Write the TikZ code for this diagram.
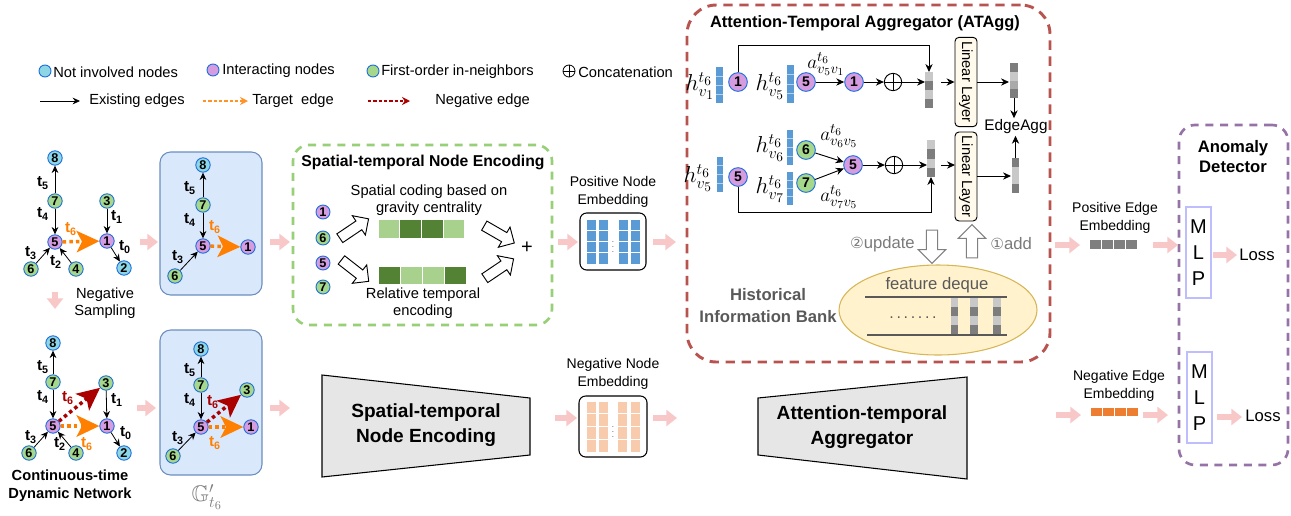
\documentclass[tikz,border=0pt]{standalone}
\usepackage[no-math]{fontspec}
\setmainfont{Liberation Sans}
\newfontfamily\dejavu{DejaVu Sans}
\usepackage{amsmath,amssymb}
\DeclareMathSizes{18}{18}{13}{10}
\DeclareMathSizes{14}{14}{10.5}{8}
\DeclareMathSizes{17}{17}{12}{9}
\usetikzlibrary{arrows.meta,shapes.arrows,shapes.geometric}
\definecolor{ncyan}{RGB}{140,214,230}
\definecolor{npurple}{RGB}{214,156,224}
\definecolor{ngreen}{RGB}{166,216,140}
\definecolor{nborder}{RGB}{30,110,220}
\definecolor{pinkar}{RGB}{248,200,200}
\definecolor{orangeE}{RGB}{255,128,0}
\definecolor{redE}{RGB}{170,0,0}
\definecolor{boxblue}{RGB}{218,232,252}
\definecolor{boxblueB}{RGB}{108,142,191}
\definecolor{greenD}{RGB}{151,208,119}
\definecolor{redD}{RGB}{184,84,80}
\definecolor{purpD}{RGB}{150,115,166}
\definecolor{gLight}{RGB}{169,209,142}
\definecolor{gDark}{RGB}{84,130,53}
\definecolor{embBlue}{RGB}{91,155,213}
\definecolor{embOrange}{RGB}{248,203,173}
\definecolor{edgeGray}{RGB}{127,127,127}
\definecolor{edgeOrange}{RGB}{237,125,49}
\definecolor{trapGray}{RGB}{230,230,230}
\definecolor{ellFill}{RGB}{255,242,204}
\definecolor{ellBorder}{RGB}{214,182,86}
\definecolor{txtGray}{RGB}{89,89,89}
\definecolor{mlpB}{RGB}{190,190,255}
\definecolor{llFill}{RGB}{255,250,235}
\definecolor{gA}{RGB}{200,200,200}
\definecolor{gB}{RGB}{125,125,125}
\definecolor{gC}{RGB}{170,170,170}
\newcommand{\fs}[2]{\fontsize{#1}{#2}\selectfont}
\newcommand{\tlab}[1]{t\textsubscript{#1}}
\newcommand{\vcells}[5]{\foreach \cc [count=\k from 0] in {#5} {\fill[\cc] (#1,{#2+\k*(#4-#2)/4}) rectangle (#3,{#2+(\k+1)*(#4-#2)/4});}}
\newcommand{\hcells}[5]{\foreach \cc [count=\k from 0] in {#5} {\filldraw[fill=\cc, draw=white, line width=0.8pt] ({#1+\k*(#3-#1)/4},#2) rectangle ({#1+(\k+1)*(#3-#1)/4},#4);}}
\newcommand{\bluevec}[4]{\fill[embBlue] (#1,#2) rectangle (#3,#4); \foreach \k in {1,2,3} {\draw[white!55!embBlue, line width=0.4pt] (#1,{#2+\k*(#4-#2)/4}) -- (#3,{#2+\k*(#4-#2)/4});}}
\tikzset{
  gn/.style={circle, draw=nborder, line width=0.7pt, minimum size=10.8pt, inner sep=0pt, font=\bfseries\fs{9.5}{10}},
  cn/.style={gn, fill=ncyan},
  pn/.style={gn, fill=npurple},
  en/.style={gn, fill=ngreen},
  arr/.style={-{Stealth[length=5.5pt,width=5pt]}, line width=0.6pt, black},
  tlb/.style={font=\bfseries\fs{11.5}{11.5}, inner sep=0pt},
  tgt/.style={orangeE, line width=2.6pt, dash pattern=on 2.6pt off 2.4pt, -{Stealth[length=17pt,width=16pt,inset=4pt]}},
  neg/.style={redE, line width=2.6pt, dash pattern=on 2.6pt off 2.4pt, -{Stealth[length=17pt,width=16pt,inset=4pt]}},
  lgtgt/.style={orangeE!85, line width=0.8pt, dash pattern=on 2.5pt off 1.5pt, -{Stealth[length=6pt,width=6pt]}},
  lgneg/.style={redE, line width=0.8pt, dash pattern=on 2.5pt off 1.5pt, -{Stealth[length=6pt,width=6pt]}},
  pinkarrow/.style={pinkar, line width=4.5pt, -{Triangle[length=8pt,width=12pt]}},
  lgtext/.style={font=\fs{11}{13}, anchor=west, inner sep=0pt},
  smtext/.style={font=\fs{10.5}{13.5}, align=center, inner sep=0pt},
  midtext/.style={font=\fs{11}{12.8}, align=center, inner sep=0pt},
  bigtext/.style={font=\bfseries\fs{14.3}{19}, align=center, inner sep=0pt},
  mathh/.style={font=\fs{18}{18}, inner sep=0pt},
  mathw/.style={font=\fs{14}{14}, inner sep=0pt},
  qn/.style={gn, minimum size=14pt, font=\bfseries\fs{10.5}{10.5}},
  plusop/.style={circle, draw, line width=0.7pt, minimum size=13pt, inner sep=0pt},
  aarr/.style={-{Stealth[length=6pt,width=5.5pt]}, line width=0.7pt, black},
  llbox/.style={draw, rounded corners=3pt, fill=llFill, line width=0.7pt, rotate=-90, minimum width=67pt, minimum height=16.5pt, inner sep=0pt, font=\fs{11}{11}},
  hollow/.style={single arrow, draw=black, fill=white, line width=0.7pt, minimum height=26pt, inner xsep=0pt, inner ysep=3.6pt, single arrow head extend=4.8pt, single arrow head indent=0pt},
  hollowg/.style={single arrow, draw=gray, fill=white, line width=0.8pt, minimum height=25pt, inner xsep=0pt, inner ysep=3.8pt, single arrow head extend=6.2pt},
  bluebox/.style={draw=boxblueB, fill=boxblue, rounded corners=8pt, line width=0.8pt, minimum width=76.5pt},
  embbox/.style={draw=black, fill=white, rounded corners=5pt, line width=0.8pt},
  mlpbox/.style={draw=mlpB, line width=1.2pt, fill=white, minimum width=18.75pt, minimum height=68.25pt, inner sep=0pt, align=center, font=\fs{15}{19.5}},
  trap/.style={draw=black, fill=trapGray, line width=0.8pt}
}
\begin{document}
\begin{tikzpicture}[x=0.75pt,y=-0.75pt]
\useasboundingbox (0,0) rectangle (1291,515);

% ---------- legend ----------
\node[cn, minimum size=9pt] (lgc) at (45,71) {};
\node[lgtext] (lgct) at (53,72) {Not involved nodes};
\node[pn, minimum size=9pt] (lgp) at (213,70) {};
\node[lgtext] (lgpt) at (222,71) {Interacting nodes};
\node[en, minimum size=9pt] (lgg) at (373,71) {};
\node[lgtext] (lggt) at (381,72) {First-order in-neighbors};
\node[plusop, minimum size=9pt, line width=0.6pt] (lgo) at (569,71) {};
\draw[line width=0.6pt] (lgo.north)--(lgo.south) (lgo.west)--(lgo.east);
\node[lgtext] (lgot) at (578,72) {Concatenation};
\coordinate (lga1) at (40,101); \coordinate (lga2) at (80,101);
\draw[arr] (lga1) -- (lga2);
\node[lgtext] (lgat) at (89,101) {Existing edges};
\coordinate (lgb1) at (203,101); \coordinate (lgb2) at (248,101);
\draw[lgtgt] (lgb1) -- (lgb2);
\node[lgtext] (lgbt) at (252,101) {Target\ \ edge};
\coordinate (lgr1) at (368,101); \coordinate (lgr2) at (410,101);
\draw[lgneg] (lgr1) -- (lgr2);
\node[lgtext] (lgrt) at (435,101) {Negative edge};

% ---------- top-left graph ----------
\node[cn] (a8) at (55,158) {8};
\node[en] (a7) at (55,201) {7};
\node[pn] (a5) at (55,242) {5};
\node[en] (a6) at (31,269) {6};
\node[en] (a4) at (76,269) {4};
\node[en] (a3) at (107,201) {3};
\node[pn] (a1) at (107,241) {1};
\node[cn] (a2) at (124,268) {2};
\draw[arr] (a7) -- (a8);
\draw[arr] (a7) -- (a5);
\draw[arr] (a6) -- (a5);
\draw[arr] (a4) -- (a5);
\draw[arr] (a3) -- (a1);
\draw[arr] (a1) -- (a2);
\draw[tgt] (a5) -- (a1);
\node[tlb] (al5) at (43,183) {\tlab{5}};
\node[tlb] (al4) at (43,214) {\tlab{4}};
\node[tlb] (al3) at (31,253) {\tlab{3}};
\node[tlb] (al2) at (56,262) {\tlab{2}};
\node[tlb, text=orangeE] (al6) at (71,229) {\tlab{6}};
\node[tlb] (al1) at (117,217) {\tlab{1}};
\node[tlb] (al0) at (125,247) {\tlab{0}};
\node[midtext] (negs) at (105,303) {Negative\\Sampling};

% ---------- blue box 1 ----------
\node[bluebox, minimum height=107.25pt] (box1) at (211,223.5) {};
\node[cn] (b8) at (203,165) {8};
\node[en] (b7) at (203,205) {7};
\node[pn] (b5) at (203,246) {5};
\node[en] (b6) at (175,276) {6};
\node[pn] (b1) at (248,247) {1};
\draw[arr] (b7) -- (b8);
\draw[arr] (b7) -- (b5);
\draw[arr] (b6) -- (b5);
\draw[tgt] (b5) -- (b1);
\node[tlb] (bl5) at (190,188) {\tlab{5}};
\node[tlb] (bl4) at (190,220) {\tlab{4}};
\node[tlb, text=orangeE] (bl6) at (215,227) {\tlab{6}};
\node[tlb] (bl3) at (178,257) {\tlab{3}};

% ---------- bottom-left graph ----------
\node[cn] (c8) at (53,343) {8};
\node[en] (c7) at (53,382) {7};
\node[pn] (c5) at (53,426) {5};
\node[en] (c6) at (29,453) {6};
\node[en] (c4) at (76,453) {4};
\node[en] (c3) at (106,383) {3};
\node[pn] (c1) at (107,426) {1};
\node[cn] (c2) at (124,453) {2};
\draw[arr] (c7) -- (c8);
\draw[arr] (c7) -- (c5);
\draw[arr] (c6) -- (c5);
\draw[arr] (c4) -- (c5);
\draw[arr] (c3) -- (c1);
\draw[arr] (c1) -- (c2);
\draw[tgt] (c5) -- (c1);
\draw[neg] (c5) -- (c3);
\node[tlb] (cl5) at (43,367) {\tlab{5}};
\node[tlb] (cl4) at (43,397) {\tlab{4}};
\node[tlb, text=redE] (cl6r) at (68,398) {\tlab{6}};
\node[tlb] (cl1) at (117,400) {\tlab{1}};
\node[tlb] (cl0) at (126,433) {\tlab{0}};
\node[tlb] (cl3) at (31,437) {\tlab{3}};
\node[tlb] (cl2) at (60,444) {\tlab{2}};
\node[tlb, text=orangeE] (cl6o) at (87,444) {\tlab{6}};
\node[font=\bfseries\fs{11}{13.5}, align=center, inner sep=0pt] (ctdn) at (70,486) {Continuous-time\\Dynamic Network};

% ---------- blue box 2 ----------
\node[bluebox, minimum height=108.75pt] (box2) at (211,402.5) {};
\node[cn] (d8) at (201,349) {8};
\node[en] (d7) at (201,385) {7};
\node[pn] (d5) at (201,427) {5};
\node[en] (d6) at (173,456) {6};
\node[en] (d3) at (247,390) {3};
\node[pn] (d1) at (251,427) {1};
\draw[arr] (d7) -- (d8);
\draw[arr] (d7) -- (d5);
\draw[arr] (d6) -- (d5);
\draw[tgt] (d5) -- (d1);
\draw[neg] (d5) -- (d3);
\node[tlb] (dl5) at (190,370) {\tlab{5}};
\node[tlb] (dl4) at (190,400) {\tlab{4}};
\node[tlb, text=redE] (dl6r) at (213,402) {\tlab{6}};
\node[tlb, text=orangeE] (dl6o) at (215,443) {\tlab{6}};
\node[tlb] (dl3) at (178,438) {\tlab{3}};
\node[font=\fs{17}{17}, text=gray, inner sep=0pt] (glab) at (207,497) {$\mathbb{G}'_{t_6}$};

% ---------- spatial-temporal node encoding box ----------
\node[draw=greenD, line width=2pt, dash pattern=on 6pt off 5pt, rounded corners=12pt, minimum width=194.25pt, minimum height=135pt] (gbox) at (422.5,235) {};
\node[font=\bfseries\fs{11.8}{12}, inner sep=0pt] (gtitle) at (423,162) {Spatial-temporal Node Encoding};
\node[pn, minimum size=10.5pt] (e1) at (323,212) {1};
\node[en, minimum size=10.5pt] (e6) at (323,238) {6};
\node[pn, minimum size=10.5pt] (e5) at (323,263) {5};
\node[en, minimum size=10.5pt] (e7) at (323,287) {7};
\node[midtext] (sctext) at (429,200) {Spatial coding based on\\gravity centrality};
\node[midtext] (rttext) at (423,303) {Relative temporal\\encoding};
\hcells{378}{219}{465}{239}{gLight,gDark,gDark,gLight}
\hcells{378}{266}{467}{285}{gDark,gLight,gLight,gDark}
\node[hollow, rotate=34] (ha1) at (352,230) {};
\node[hollow, rotate=-38] (ha2) at (353,269) {};
\node[hollow, rotate=-30] (ha3) at (497,233) {};
\node[hollow, rotate=34] (ha4) at (497,270) {};
\node[font=\fs{15}{15}, inner sep=0pt] (plus) at (527,248) {+};

% ---------- positive node embedding ----------
\node[smtext] (pnetext) at (613,192) {Positive Node\\Embedding};
\node[embbox, minimum width=49.5pt, minimum height=42.75pt] (pne) at (613,241.5) {};
\foreach \xl in {586,598,618,630} {\foreach \r in {0,1,2,3} {\filldraw[fill=embBlue, draw=white, line width=0.6pt] (\xl,{219+\r*11.25}) rectangle ({\xl+10},{219+(\r+1)*11.25});}}
\node[inner sep=0pt, font=\fs{6}{6}, text=black!70] (pdots) at (613,243) {$\vdots$};

% ---------- bottom trapezoids & negative node embedding ----------
\draw[trap] (322,375) -- (530,398) -- (530,455) -- (322,477) -- cycle;
\node[bigtext] (stne) at (426,425) {Spatial-temporal\\Node Encoding};
\node[smtext] (nnetext) at (613,374) {Negative Node\\Embedding};
\node[embbox, minimum width=51pt, minimum height=45.75pt] (nne) at (613,426.5) {};
\foreach \xl in {586,598,617,630} {\foreach \r in {0,1,2,3} {\filldraw[fill=embOrange, draw=white, line width=0.6pt] (\xl,{401+\r*12.75}) rectangle ({\xl+10.5},{401+(\r+1)*12.75});}}
\node[inner sep=0pt, font=\fs{6}{6}, text=black!70] (ndots) at (613,428) {$\vdots$};
\draw[trap] (758,398) -- (967,377) -- (967,479) -- (758,455) -- cycle;
\node[bigtext] (atag) at (862,427) {Attention-temporal\\Aggregator};

% ---------- ATAgg box ----------
\node[draw=redD, line width=2.2pt, dash pattern=on 7pt off 5pt, rounded corners=22pt, minimum width=272.25pt, minimum height=267.75pt] (atbox) at (868.5,183.5) {};
\node[font=\bfseries\fs{12.3}{13}, inner sep=0pt] (attitle) at (865,23) {Attention-Temporal Aggregator (ATAgg)};

% top row
\node[mathh] (hv1) at (700,86) {$h^{t_6}_{v_1}$};
\bluevec{716}{67}{723}{103}
\node[qn, fill=npurple] (q1) at (738,82) {1};
\node[mathh] (hv5) at (770,86) {$h^{t_6}_{v_5}$};
\bluevec{787}{65}{794}{103}
\node[qn, fill=npurple] (q5) at (806,82) {5};
\node[qn, fill=npurple] (q1b) at (854,82) {1};
\node[mathw] (a51) at (826,64) {$a^{t_6}_{v_5v_1}$};
\node[plusop] (op1) at (893,82) {};
\draw[line width=0.7pt] (op1.north)--(op1.south) (op1.west)--(op1.east);
\vcells{925}{72}{933}{108}{gA,gB,gA,gB}
\coordinate (gb1w) at (925,82);
\coordinate (gb1t) at (929,72);
\coordinate (gb1e) at (941,82);
\coordinate (top1) at (738,45);
\draw[aarr] (q5) -- (q1b);
\draw[aarr] (q1b) -- (op1);
\draw[aarr] (op1) -- (gb1w);
\draw[aarr] (q1.north) -- (top1) -| (gb1t);
\node[llbox] (ll1) at (966,82) {Linear Layer};
\draw[aarr] (gb1e) -- (ll1);
\vcells{1010}{63}{1018}{98}{gB,gA,gC,gB}
\coordinate (ob1w) at (1009,82);
\coordinate (ob1s) at (1014,98);
\coordinate (ll1e) at (977,82);
\draw[aarr] (ll1e) -- (ob1w);
\node[font=\fs{11.5}{12}, inner sep=1pt] (eagg) at (1016,127) {EdgeAgg};
\draw[aarr] (ob1s) -- (eagg.north -| ob1s);

% middle row
\node[mathh] (hv5b) at (698,178) {$h^{t_6}_{v_5}$};
\bluevec{717}{157}{723}{192}
\node[qn, fill=npurple] (r5) at (738,177) {5};
\node[mathh] (hv6) at (770,148) {$h^{t_6}_{v_6}$};
\bluevec{787}{130}{793}{165}
\node[qn, fill=ngreen] (r6) at (806,150) {6};
\node[mathh] (hv7) at (770,189) {$h^{t_6}_{v_7}$};
\bluevec{787}{172}{793}{205}
\node[qn, fill=ngreen] (r7) at (806,183) {7};
\node[qn, fill=npurple] (r5b) at (853,165) {5};
\node[mathw] (a65) at (839,136) {$a^{t_6}_{v_6v_5}$};
\node[mathw] (a75) at (839,197) {$a^{t_6}_{v_7v_5}$};
\node[plusop] (op2) at (894,165) {};
\draw[line width=0.7pt] (op2.north)--(op2.south) (op2.west)--(op2.east);
\vcells{927}{140}{935}{177}{gA,gB,gA,gB}
\coordinate (gb2w) at (927,165);
\coordinate (gb2b) at (931,177);
\coordinate (gb2e) at (941,165);
\coordinate (bot2) at (738,212);
\draw[aarr] (r6) -- (r5b);
\draw[aarr] (r7) -- (r5b);
\draw[aarr] (r5b) -- (op2);
\draw[aarr] (op2) -- (gb2w);
\draw[aarr] (r5.south) -- (bot2) -| (gb2b);
\node[llbox, minimum width=66.75pt] (ll2) at (966,176.5) {Linear Layer};
\coordinate (ll2w) at (955,165);
\coordinate (ll2e) at (977,176);
\draw[aarr] (gb2e) -- (ll2w);
\vcells{1012}{158}{1019}{193}{gB,gA,gA,gB}
\coordinate (ob2w) at (1011,176);
\coordinate (ob2n) at (1015.5,158);
\draw[aarr] (ll2e) -- (ob2w);
\draw[aarr] (ob2n) -- (eagg.south -| ob2n);

% update / add
\node[hollowg, rotate=-90] (upd) at (932,244) {};
\node[hollowg, rotate=90] (addar) at (972,244) {};
\node[font=\fs{12.5}{13}, text=txtGray!80, anchor=east, inner sep=0pt] (updt) at (915,244) {{\dejavu\fs{11.5}{13}②}update};
\node[font=\fs{12.5}{13}, text=txtGray!80, anchor=west, inner sep=0pt] (addt) at (990,244) {{\dejavu\fs{11.5}{13}①}add};

% historical information bank
\node[font=\bfseries\fs{12.5}{16.5}, text=txtGray, align=center, inner sep=0pt] (hib) at (768,306) {Historical\\Information Bank};
\node[ellipse, draw=ellBorder, fill=ellFill, line width=0.8pt, minimum width=148.5pt, minimum height=67.5pt] (ell) at (938,310) {};
\node[font=\fs{12.5}{13}, text=txtGray, inner sep=0pt] (fdq) at (937,285) {feature deque};
\coordinate (dqa1) at (865,297); \coordinate (dqa2) at (1007,297);
\coordinate (dqb1) at (867,335); \coordinate (dqb2) at (1007,335);
\draw[txtGray, line width=0.8pt] (dqa1) -- (dqa2);
\draw[txtGray, line width=0.8pt] (dqb1) -- (dqb2);
\node[font=\fs{12}{12}, text=txtGray, inner sep=0pt] (dqdots) at (913,318) {.\,.\,.\,.\,.\,.\,.};
\vcells{951}{298}{958}{334}{gA,gB,gA,gB}
\vcells{970}{298}{978}{334}{gA,gB,gA,gB}
\vcells{993}{298}{1001}{334}{gA,gB,gA,gB}

% ---------- edge embeddings ----------
\node[smtext] (peetext) at (1115,218) {Positive Edge\\Embedding};
\hcells{1089}{239}{1138}{250}{edgeGray,edgeGray,edgeGray,edgeGray}
\node[smtext] (neetext) at (1119,386) {Negative Edge\\Embedding};
\hcells{1090}{407}{1139}{417}{edgeOrange,edgeOrange,edgeOrange,edgeOrange}

% ---------- anomaly detector ----------
\node[draw=purpD, line width=2pt, dash pattern=on 6pt off 5pt, rounded corners=12pt, minimum width=81.75pt, minimum height=255pt] (adbox) at (1233.5,295) {};
\node[font=\bfseries\fs{12.5}{15}, align=center, inner sep=0pt] (adt) at (1233,157) {Anomaly\\Detector};
\node[mlpbox] (mlp1) at (1198.5,252.5) {M\\L\\P};
\node[mlpbox] (mlp2) at (1199.5,397.5) {M\\L\\P};
\node[font=\fs{12.5}{13}, inner sep=0pt] (loss1) at (1257,255) {Loss};
\node[font=\fs{12.5}{13}, inner sep=0pt] (loss2) at (1263,416) {Loss};

% ---------- pink arrows ----------
\coordinate (p1s) at (140,242); \coordinate (p1e) at (158,242);
\coordinate (p2s) at (270,242); \coordinate (p2e) at (290,242);
\coordinate (p3s) at (558,242); \coordinate (p3e) at (578,242);
\coordinate (p4s) at (653,242); \coordinate (p4e) at (676,242);
\coordinate (p5s) at (55,292); \coordinate (p5e) at (55,309);
\coordinate (p6s) at (137,408); \coordinate (p6e) at (156,408);
\coordinate (p7s) at (270,408); \coordinate (p7e) at (290,408);
\coordinate (p8s) at (555,418); \coordinate (p8e) at (577,418);
\coordinate (p9s) at (653,418); \coordinate (p9e) at (677,418);
\coordinate (p10s) at (1055,245); \coordinate (p10e) at (1080,245);
\coordinate (p11s) at (1153,245); \coordinate (p11e) at (1178,245);
\coordinate (p12s) at (1213,255); \coordinate (p12e) at (1237,255);
\coordinate (p13s) at (1056,415); \coordinate (p13e) at (1081,415);
\coordinate (p14s) at (1143,415); \coordinate (p14e) at (1168,415);
\coordinate (p15s) at (1217,417); \coordinate (p15e) at (1242,417);
\foreach \i in {1,...,15} {\draw[pinkarrow] (p\i s) -- (p\i e);}
\end{tikzpicture}
\end{document}
